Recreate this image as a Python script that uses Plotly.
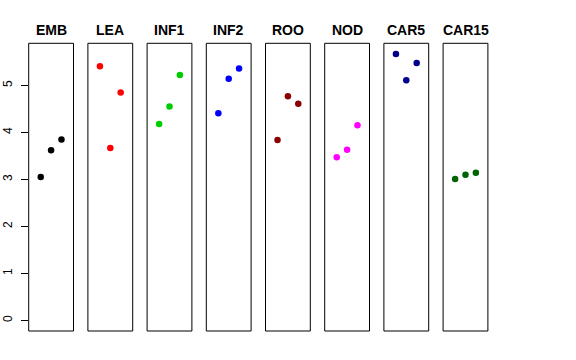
import plotly.graph_objects as go

categories = ["EMB", "LEA", "INF1", "INF2", "ROO", "NOD", "CAR5", "CAR15"]
positions = [1, 2, 3]
values = {
    "EMB":   [3.05, 3.62, 3.85],
    "LEA":   [5.41, 3.67, 4.85],
    "INF1":  [4.18, 4.55, 5.22],
    "INF2":  [4.41, 5.14, 5.36],
    "ROO":   [3.84, 4.77, 4.61],
    "NOD":   [3.47, 3.63, 4.15],
    "CAR5":  [5.67, 5.11, 5.48],
    "CAR15": [3.01, 3.10, 3.14],
}
colors = ["#000000", "#FF0000", "#00CD00", "#0000FF", "#8B0000", "#FF00FF", "#00008B", "#006400"]
y_ticks = [0, 1, 2, 3, 4, 5]

W, H = 576, 360
fig = go.Figure()

ymax = max(max(v) for v in values.values())
ymin = 0
pad = 0.04 * (ymax - ymin)
yrange = [ymin - pad, ymax + pad]

left0 = 28.7
step = 59.2
pw = 44.8
ytop = 43.3
ybot = 331.0
ydom = [1 - ybot / H, 1 - ytop / H]

layout = dict(
    width=W, height=H,
    margin=dict(l=0, r=0, t=0, b=0, autoexpand=False),
    plot_bgcolor="white", paper_bgcolor="white",
    showlegend=False,
    font=dict(family="Liberation Sans, Arial, sans-serif", color="black"),
)
shapes = []
annotations = []
for i, cat in enumerate(categories):
    xn = "x" if i == 0 else f"x{i+1}"
    key = "xaxis" if i == 0 else f"xaxis{i+1}"
    l = (left0 + i * step) / W
    r = (left0 + i * step + pw) / W
    layout[key] = dict(domain=[l, r], range=[-0.16, 4.16], visible=False, anchor="y")
    fig.add_trace(go.Scatter(
        x=positions, y=values[cat], mode="markers",
        marker=dict(color=colors[i], size=6.5, line=dict(width=0)),
        xaxis=xn, yaxis="y", hoverinfo="skip",
    ))
    shapes.append(dict(type="rect", xref=f"{xn} domain", yref="y domain",
                       x0=0, x1=1, y0=0, y1=1,
                       line=dict(color="black", width=1), fillcolor="rgba(0,0,0,0)"))
    annotations.append(dict(text=f"<b>{cat}</b>", xref="paper", yref="paper",
                            x=(l + r) / 2, y=1 - 30 / H, xanchor="center", yanchor="middle",
                            showarrow=False, font=dict(size=14, color="black")))

layout["yaxis"] = dict(domain=ydom, range=yrange, anchor="x", tickvals=y_ticks,
                       ticks="outside", ticklen=7, tickcolor="black", tickwidth=1,
                       tickangle=-90, showgrid=False, zeroline=False, showline=False,
                       automargin=False,
                       tickfont=dict(size=12, color="black"), ticklabelstandoff=4)
layout["shapes"] = shapes
layout["annotations"] = annotations
fig.update_layout(**layout)
fig.write_html("out.html", config={"displayModeBar": False},
               post_script="document.body.style.margin='0';")
